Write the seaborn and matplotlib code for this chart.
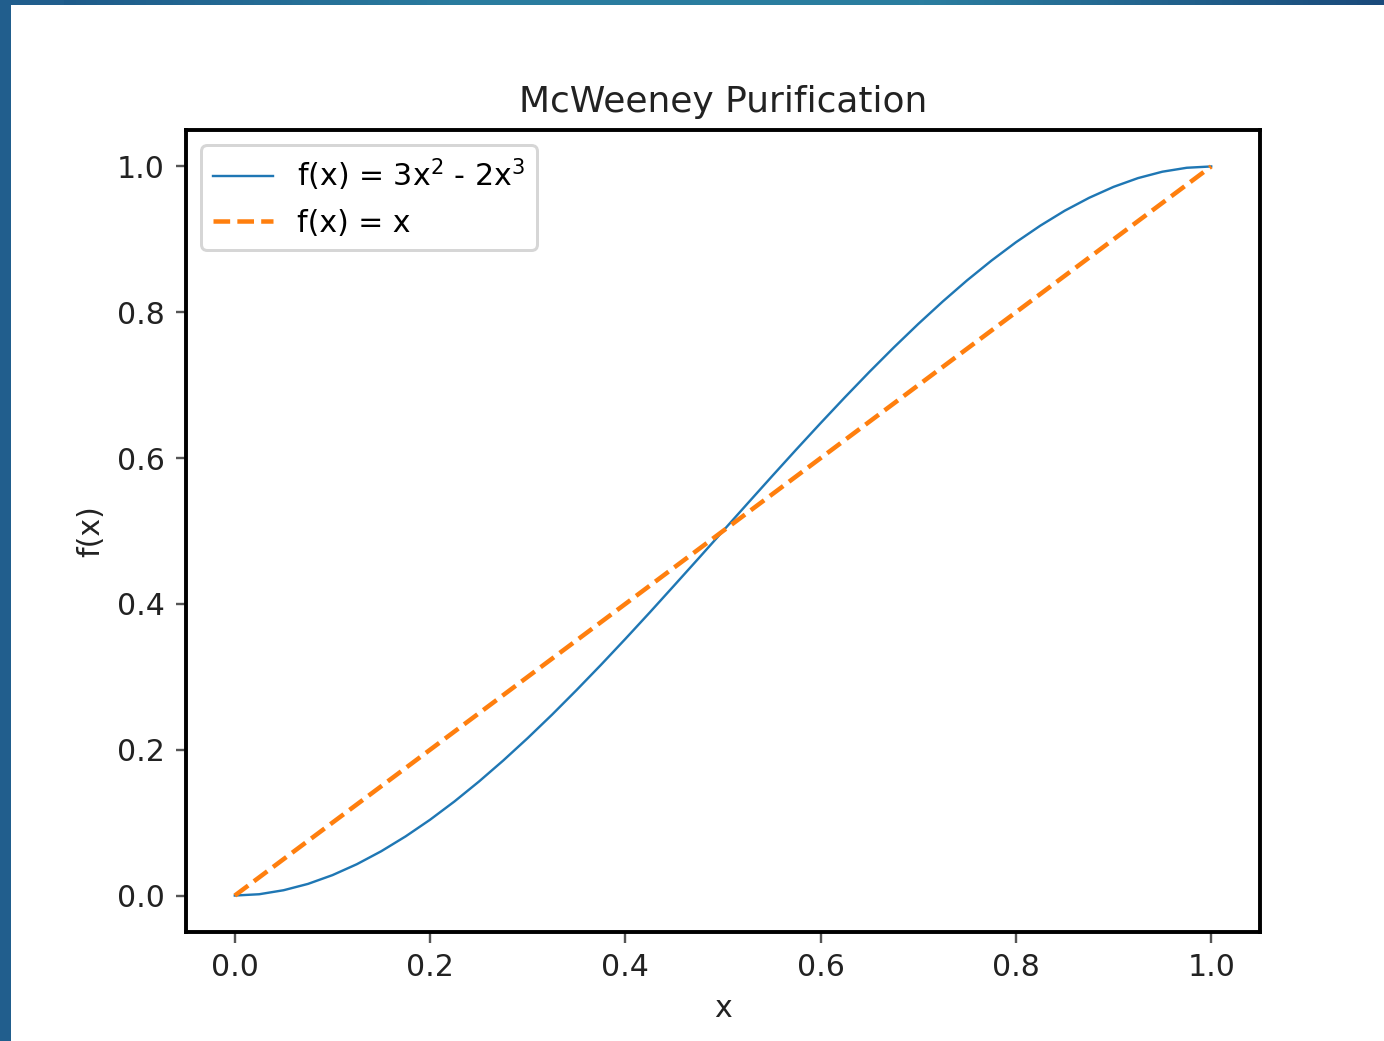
import numpy as np
import pandas as pd
import matplotlib
matplotlib.use("Agg")
import matplotlib.pyplot as plt
import seaborn as sns
from matplotlib.colors import LinearSegmentedColormap

# values, every 0.025 along x
x_vals = [0.000, 0.025, 0.050, 0.075, 0.100, 0.125, 0.150, 0.175, 0.200, 0.225,
          0.250, 0.275, 0.300, 0.325, 0.350, 0.375, 0.400, 0.425, 0.450, 0.475,
          0.500, 0.525, 0.550, 0.575, 0.600, 0.625, 0.650, 0.675, 0.700, 0.725,
          0.750, 0.775, 0.800, 0.825, 0.850, 0.875, 0.900, 0.925, 0.950, 0.975, 1.000]
cubic_vals = [0.0000, 0.0018, 0.0073, 0.0160, 0.0280, 0.0430, 0.0608, 0.0812, 0.1040, 0.1291,
              0.1563, 0.1853, 0.2160, 0.2482, 0.2818, 0.3164, 0.3520, 0.3883, 0.4253, 0.4625,
              0.5000, 0.5375, 0.5748, 0.6117, 0.6480, 0.6836, 0.7183, 0.7518, 0.7840, 0.8147,
              0.8438, 0.8709, 0.8960, 0.9188, 0.9393, 0.9570, 0.9720, 0.9840, 0.9928, 0.9982, 1.0000]
identity_x = [0.0, 1.0]
identity_vals = [0.0, 1.0]

labels = ["f(x) = 3x$^2$ - 2x$^3$", "f(x) = x"]
tick_vals = [0.0, 0.2, 0.4, 0.6, 0.8, 1.0]

W, H = 1384, 1041
DPI = 216
fig = plt.figure(figsize=(W / DPI, H / DPI), dpi=DPI)

# blue frame behind the white canvas
bg = fig.add_axes([0, 0, 1, 1], zorder=-10)
cmap = LinearSegmentedColormap.from_list("frame", ["#1d5687", "#2a7c9f", "#2b7ea0", "#1a4a7b"])
grad = np.linspace(0, 1, 256)[None, :]
bg.imshow(grad, aspect="auto", cmap=cmap, extent=[0, 1, 0, 1])
bg.add_patch(plt.Rectangle((0, 0), 0.045, 1, color="#215e8d", transform=bg.transAxes))
bg.add_patch(plt.Rectangle((12 / W, 0), 1, 1 - 6 / H, color="white", transform=bg.transAxes))
bg.set_axis_off()

ax = fig.add_axes([186 / W, 1 - 932 / H, (1260 - 186) / W, (932 - 130) / H])

df_cubic = pd.DataFrame({"x": x_vals, "y": cubic_vals})
df_ident = pd.DataFrame({"x": identity_x, "y": identity_vals})
sns.lineplot(data=df_cubic, x="x", y="y", ax=ax, color="#1f77b4", lw=0.8, label=labels[0])
sns.lineplot(data=df_ident, x="x", y="y", ax=ax, color="#ff7f0e", lw=1.5, ls="--", label=labels[1])

ax.set_xlim(-0.05, 1.05)
ax.set_ylim(-0.05, 1.05)
ax.set_xticks(tick_vals)
ax.set_yticks(tick_vals)
ax.tick_params(labelsize=10, width=0.8, length=3.5, colors="#555555", labelcolor="#222222")
for s in ax.spines.values():
    s.set_linewidth(1.3)
    s.set_color("black")
ax.set_title("McWeeney Purification", fontsize=12, color="#222222")
ax.set_xlabel("x", fontsize=10, color="#222222")
ax.set_ylabel("f(x)", fontsize=10, color="#222222")
ax.legend(loc="upper left", fontsize=10, framealpha=0.8, edgecolor="0.8")

fig.savefig("out.png", dpi=DPI)
